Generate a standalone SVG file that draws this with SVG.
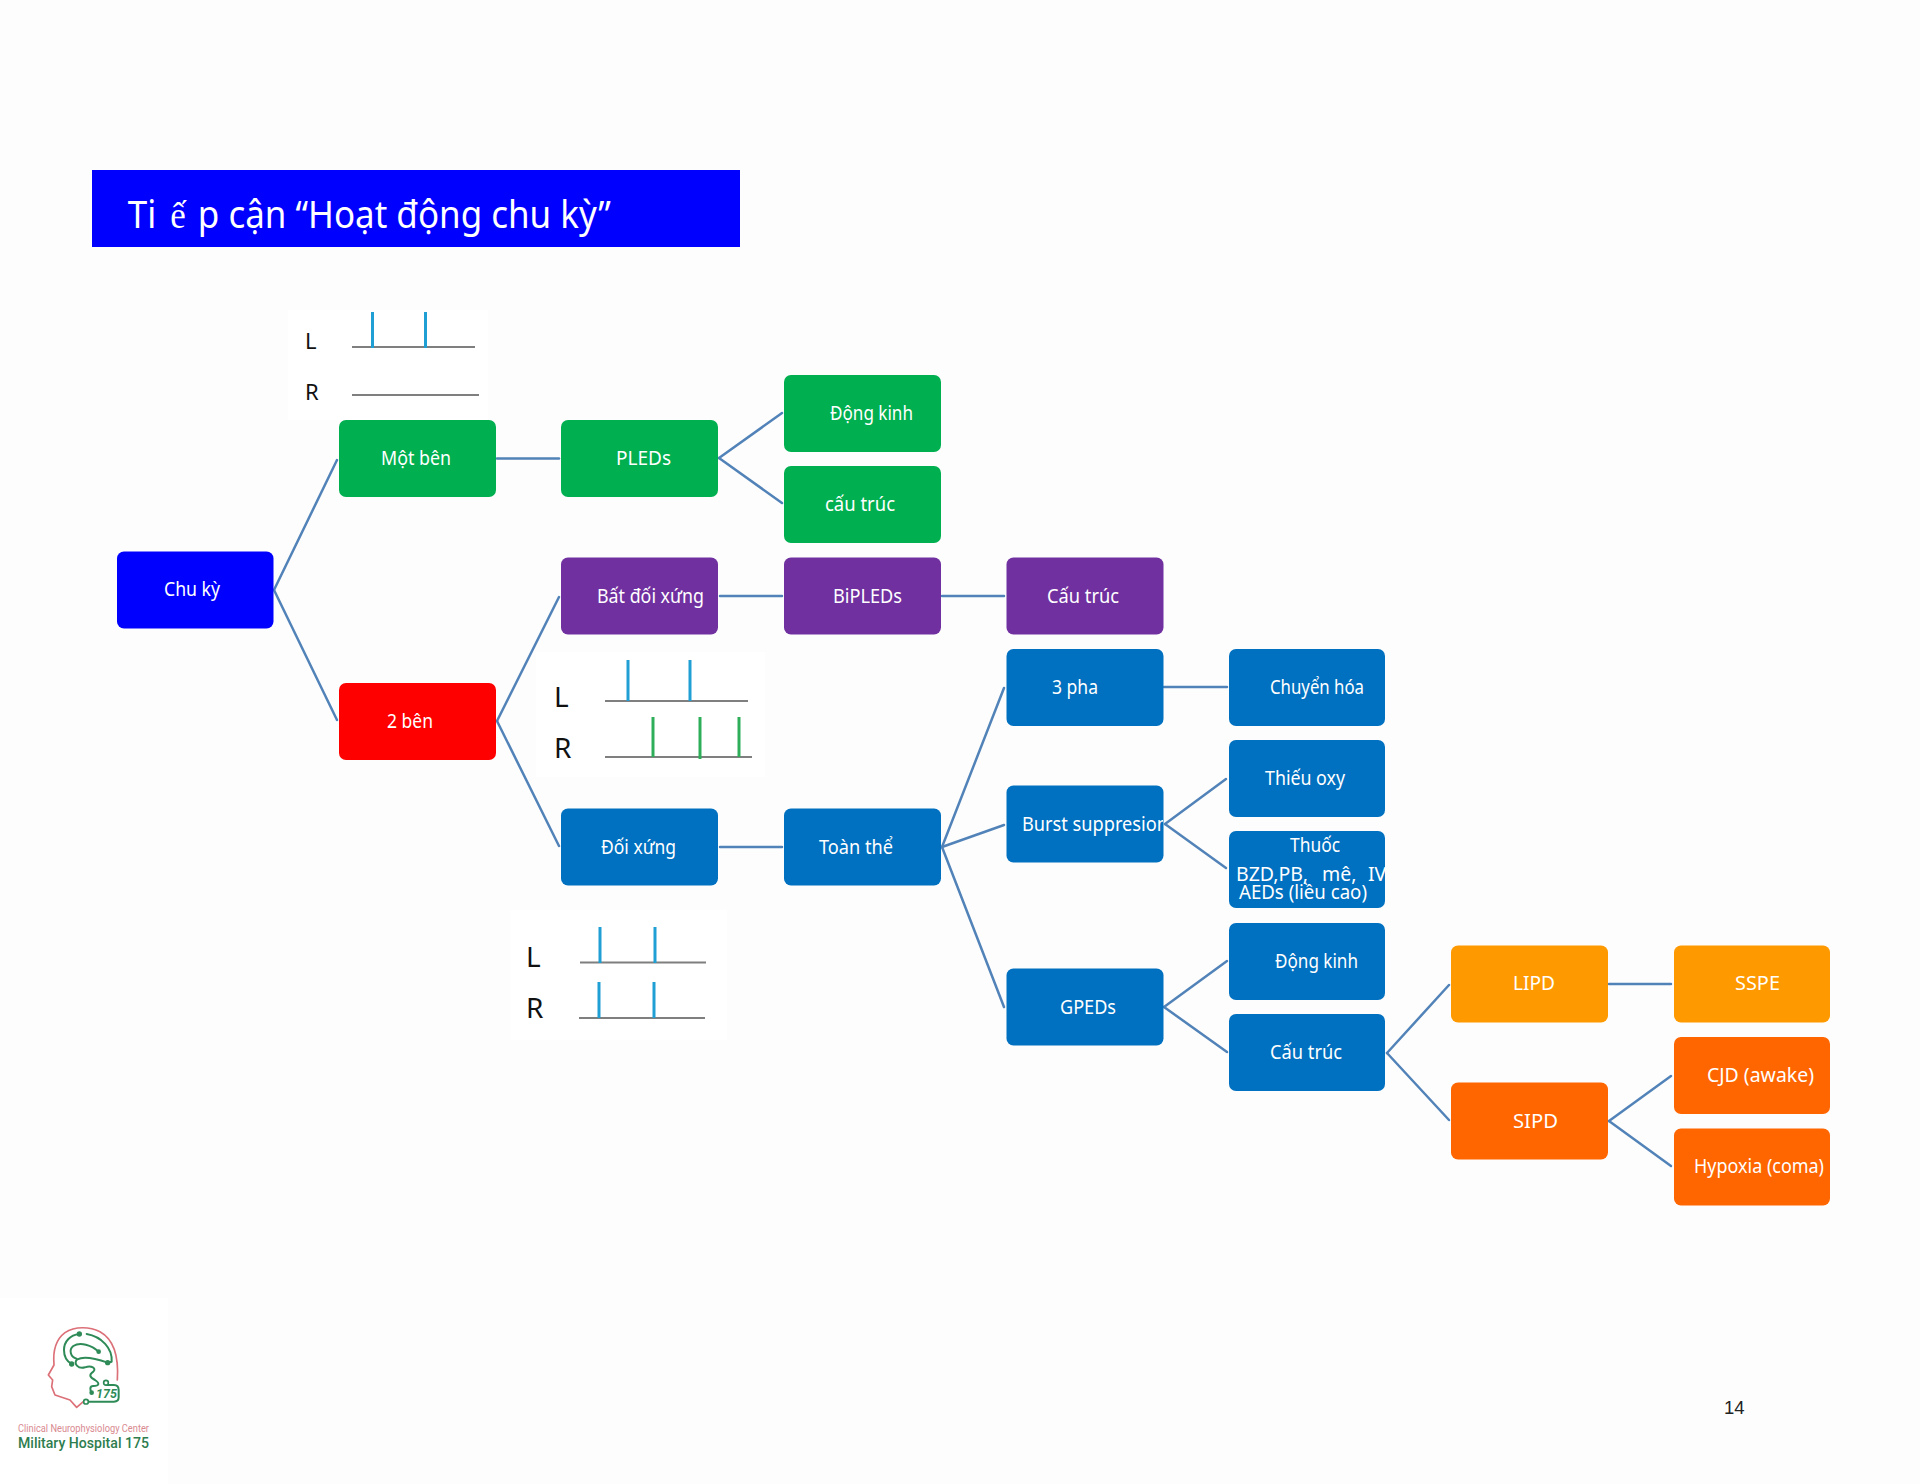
<svg xmlns="http://www.w3.org/2000/svg" width="1920" height="1484" viewBox="0 0 1920 1484">
<defs>
<style>
.blue{fill:#0070c0}.bl{fill:#0000ff}.gr{fill:#00b050}.pu{fill:#7030a0}.re{fill:#ff0000}.or{fill:#ff9900}.dk{fill:#ff6600}
text{font-family:"Noto Sans","DejaVu Sans",sans-serif}
.t{font-size:19.500px;fill:#fff}
.w{font-size:22px;fill:#111}
.w2{font-size:28px;fill:#111}
.c line{stroke:#5283b8;stroke-width:2.500;stroke-linecap:round}
.base{stroke:#7f7f7f;stroke-width:2}
.sb{stroke:#1f9fd3;stroke-width:3}
.sg{stroke:#2fae5a;stroke-width:3}
</style>
<clipPath id="cb"><rect x="1006" y="785" width="157" height="78"/></clipPath>
<clipPath id="ct"><rect x="1229" y="831" width="156" height="77"/></clipPath>
</defs>
<rect width="1920" height="1484" fill="#fdfdfd"/>

<g id="title">
<rect x="92" y="170" width="648" height="77" fill="#0000ff"/>
<text transform="translate(0,228) scale(0.92,1)" y="0" font-size="38" fill="#fff"><tspan x="139">Ti</tspan><tspan x="185" font-family="'Liberation Serif',serif" font-weight="300">ế</tspan><tspan x="215">p cận “Hoạt động chu kỳ”</tspan></text>
</g>

<g id="wave-unilateral">
<rect x="288" y="310" width="200" height="110" fill="#fff"/>
<text class="w" x="305" y="349">L</text><text class="w" x="305" y="400">R</text>
<line class="base" x1="352" y1="347" x2="475" y2="347"/>
<line class="base" x1="352" y1="395" x2="479" y2="395"/>
<line class="sb" x1="372.500" y1="312" x2="372.500" y2="348"/>
<line class="sb" x1="425.500" y1="312" x2="425.500" y2="348"/>
</g>
<g id="wave-asymmetric">
<rect x="536" y="652" width="229" height="125" fill="#fff"/>
<text class="w2" x="554" y="707">L</text><text class="w2" x="554" y="758">R</text>
<line class="base" x1="605" y1="701" x2="748" y2="701"/>
<line class="base" x1="605" y1="757" x2="752" y2="757"/>
<line class="sb" x1="628" y1="660" x2="628" y2="701"/>
<line class="sb" x1="690" y1="660" x2="690" y2="701"/>
<line class="sg" x1="653" y1="717" x2="653" y2="757"/>
<line class="sg" x1="700" y1="717" x2="700" y2="759"/>
<line class="sg" x1="739" y1="717" x2="739" y2="757"/>
</g>
<g id="wave-symmetric">
<rect x="510" y="910" width="217" height="130" fill="#fff"/>
<text class="w2" x="526" y="967">L</text><text class="w2" x="526" y="1018">R</text>
<line class="base" x1="580" y1="962.500" x2="706" y2="962.500"/>
<line class="base" x1="579" y1="1018" x2="705" y2="1018"/>
<line class="sb" x1="600" y1="927" x2="600" y2="963"/>
<line class="sb" x1="655" y1="927" x2="655" y2="963"/>
<line class="sb" x1="599" y1="982" x2="599" y2="1018"/>
<line class="sb" x1="654" y1="982" x2="654" y2="1018"/>
</g>

<g id="connectors" class="c">
<line x1="274" y1="590" x2="337" y2="460"/>
<line x1="274" y1="590" x2="337" y2="720"/>
<line x1="497" y1="458.500" x2="559" y2="458.500"/>
<line x1="719" y1="458" x2="782" y2="413"/>
<line x1="719" y1="458" x2="782" y2="503"/>
<line x1="497" y1="721" x2="559" y2="597"/>
<line x1="497" y1="721" x2="559" y2="846"/>
<line x1="720" y1="596" x2="782" y2="596"/>
<line x1="942" y1="596" x2="1004" y2="596"/>
<line x1="720" y1="847" x2="782" y2="847"/>
<line x1="942" y1="847" x2="1004" y2="688"/>
<line x1="942" y1="847" x2="1004" y2="825"/>
<line x1="942" y1="847" x2="1004" y2="1007"/>
<line x1="1164" y1="687" x2="1227" y2="687"/>
<line x1="1165" y1="824" x2="1226" y2="779"/>
<line x1="1165" y1="824" x2="1226" y2="868"/>
<line x1="1164" y1="1007" x2="1227" y2="961"/>
<line x1="1164" y1="1007" x2="1227" y2="1052"/>
<line x1="1387" y1="1053" x2="1449" y2="985"/>
<line x1="1387" y1="1053" x2="1449" y2="1120"/>
<line x1="1609" y1="984" x2="1671" y2="984"/>
<line x1="1609" y1="1121" x2="1671" y2="1076"/>
<line x1="1609" y1="1121" x2="1671" y2="1166"/>
</g>

<g id="chu-ky"><rect class="bl" x="117" y="551.500" width="156.500" height="77" rx="7"/><text class="t" x="164" y="596" textLength="56" lengthAdjust="spacingAndGlyphs">Chu kỳ</text></g>
<g id="mot-ben"><rect class="gr" x="339" y="420" width="157" height="77" rx="7"/><text class="t" x="381" y="465" textLength="70" lengthAdjust="spacingAndGlyphs">Một bên</text></g>
<g id="pleds"><rect class="gr" x="561" y="420" width="157" height="77" rx="7"/><text class="t" x="616" y="465" textLength="55" lengthAdjust="spacingAndGlyphs">PLEDs</text></g>
<g id="dong-kinh-1"><rect class="gr" x="784" y="375" width="157" height="77" rx="7"/><text class="t" x="830" y="420" textLength="83" lengthAdjust="spacingAndGlyphs">Động kinh</text></g>
<g id="cau-truc-1"><rect class="gr" x="784" y="466" width="157" height="77" rx="7"/><text class="t" x="825" y="511" textLength="70" lengthAdjust="spacingAndGlyphs">cấu trúc</text></g>
<g id="hai-ben"><rect class="re" x="339" y="683" width="157" height="77" rx="7"/><text class="t" x="387" y="728" textLength="46" lengthAdjust="spacingAndGlyphs">2 bên</text></g>
<g id="bat-doi-xung"><rect class="pu" x="561" y="557.500" width="157" height="77" rx="7"/><text class="t" x="597" y="603" textLength="107" lengthAdjust="spacingAndGlyphs">Bất đối xứng</text></g>
<g id="bipleds"><rect class="pu" x="784" y="557.500" width="157" height="77" rx="7"/><text class="t" x="833" y="603" textLength="69" lengthAdjust="spacingAndGlyphs">BiPLEDs</text></g>
<g id="cau-truc-2"><rect class="pu" x="1006.500" y="557.500" width="157" height="77" rx="7"/><text class="t" x="1047" y="603" textLength="72" lengthAdjust="spacingAndGlyphs">Cấu trúc</text></g>
<g id="ba-pha"><rect class="blue" x="1006.500" y="649" width="157" height="77" rx="7"/><text class="t" x="1052" y="694" textLength="46" lengthAdjust="spacingAndGlyphs">3 pha</text></g>
<g id="chuyen-hoa"><rect class="blue" x="1229" y="649" width="156" height="77" rx="7"/><text class="t" x="1270" y="694" textLength="94" lengthAdjust="spacingAndGlyphs">Chuyển hóa</text></g>
<g id="doi-xung"><rect class="blue" x="561" y="808.500" width="157" height="77" rx="7"/><text class="t" x="601" y="854" textLength="75" lengthAdjust="spacingAndGlyphs">Đối xứng</text></g>
<g id="toan-the"><rect class="blue" x="784" y="808.500" width="157" height="77" rx="7"/><text class="t" x="819" y="854" textLength="74" lengthAdjust="spacingAndGlyphs">Toàn thể</text></g>
<g id="burst"><rect class="blue" x="1006.500" y="785.500" width="157" height="77" rx="7"/><text class="t" x="1022" y="831" textLength="146" lengthAdjust="spacingAndGlyphs" clip-path="url(#cb)">Burst suppresion</text></g>
<g id="thieu-oxy"><rect class="blue" x="1229" y="740" width="156" height="77" rx="7"/><text class="t" x="1265" y="785" textLength="80" lengthAdjust="spacingAndGlyphs">Thiếu oxy</text></g>
<g id="thuoc"><rect class="blue" x="1229" y="831" width="156" height="77" rx="7"/><text class="t" x="1290" y="852" textLength="50" lengthAdjust="spacingAndGlyphs">Thuốc</text><text class="t" y="881" clip-path="url(#ct)"><tspan x="1236">BZD,PB,</tspan><tspan x="1322">mê,</tspan><tspan x="1368">IV</tspan></text><text class="t" x="1239" y="899" textLength="128" lengthAdjust="spacingAndGlyphs">AEDs (liều cao)</text></g>
<g id="gpeds"><rect class="blue" x="1006.500" y="968.500" width="157" height="77" rx="7"/><text class="t" x="1060" y="1014" textLength="56" lengthAdjust="spacingAndGlyphs">GPEDs</text></g>
<g id="dong-kinh-2"><rect class="blue" x="1229" y="923" width="156" height="77" rx="7"/><text class="t" x="1275" y="968" textLength="83" lengthAdjust="spacingAndGlyphs">Động kinh</text></g>
<g id="cau-truc-3"><rect class="blue" x="1229" y="1014" width="156" height="77" rx="7"/><text class="t" x="1270" y="1059" textLength="72" lengthAdjust="spacingAndGlyphs">Cấu trúc</text></g>
<g id="lipd"><rect class="or" x="1451" y="945.500" width="157" height="77" rx="7"/><text class="t" x="1513" y="990" textLength="42" lengthAdjust="spacingAndGlyphs">LIPD</text></g>
<g id="sspe"><rect class="or" x="1674" y="945.500" width="156" height="77" rx="7"/><text class="t" x="1735" y="990" textLength="45" lengthAdjust="spacingAndGlyphs">SSPE</text></g>
<g id="sipd"><rect class="dk" x="1451" y="1082.500" width="157" height="77" rx="7"/><text class="t" x="1513" y="1128" textLength="45" lengthAdjust="spacingAndGlyphs">SIPD</text></g>
<g id="cjd"><rect class="dk" x="1674" y="1037" width="156" height="77" rx="7"/><text class="t" x="1707" y="1082" textLength="107" lengthAdjust="spacingAndGlyphs">CJD (awake)</text></g>
<g id="hypoxia"><rect class="dk" x="1674" y="1128.500" width="156" height="77" rx="7"/><text class="t" x="1694" y="1173" textLength="130" lengthAdjust="spacingAndGlyphs">Hypoxia (coma)</text></g>

<g id="page-number"><text x="1724" y="1414" font-size="18.500" fill="#222" style="font-family:'Liberation Sans',Arial,sans-serif">14</text></g>

<g id="logo">
<rect x="0" y="1298" width="168" height="186" fill="#fff"/>
<g transform="translate(40,1320) scale(0.3333)" fill="none" stroke-linecap="round" stroke-linejoin="round">
<path d="M232 180C236 120 225 60 180 35C150 20 105 18 75 38C48 58 38 90 42 135L25 165L38 180L35 200L45 225L90 240L110 262L130 245" stroke="#dc7078" stroke-width="5"/>
<g stroke="#2e8b57" stroke-width="6">
<path d="M118 42C90 45 72 65 72 90C72 110 82 125 95 132"/>
<path d="M140 42C185 50 218 85 215 125L203 128"/>
<path d="M176 95C155 75 120 65 100 78C85 90 92 112 110 116"/>
<path d="M203 128C175 118 135 105 112 118C98 130 115 148 135 142C155 135 170 145 160 155C145 165 150 172 165 180C180 190 178 198 160 198C148 198 150 210 155 218"/>
<path d="M198 188V195H222C232 195 236 202 236 210V232C236 240 232 245 222 245H145"/>
</g>
<g fill="#2e8b57"><circle cx="118" cy="42" r="8"/><circle cx="176" cy="95" r="7"/><circle cx="203" cy="128" r="8"/><circle cx="95" cy="132" r="8"/><circle cx="155" cy="218" r="7"/></g>
<circle cx="198" cy="188" r="7" stroke="#2e8b57" stroke-width="5" fill="#fff"/>
<circle cx="138" cy="245" r="7" stroke="#2e8b57" stroke-width="5" fill="#fff"/>
</g>
<text x="96" y="1398" font-size="12.500" font-weight="700" font-style="italic" fill="#2e8b57" style="font-family:Roboto,sans-serif">175</text>
<text x="18" y="1432" font-size="10.500" fill="#d98a90" textLength="131" lengthAdjust="spacingAndGlyphs" style="font-family:Roboto,sans-serif">Clinical Neurophysiology Center</text>
<text x="18" y="1448" font-size="15" font-weight="500" fill="#2e7d4f" textLength="131" lengthAdjust="spacingAndGlyphs" style="font-family:Roboto,sans-serif">Military Hospital 175</text>
</g>
</svg>
